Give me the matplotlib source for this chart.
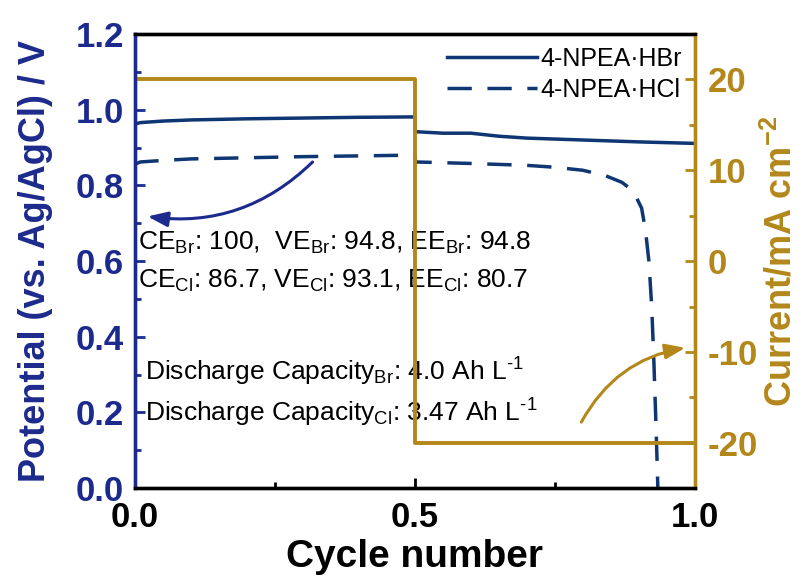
import matplotlib
matplotlib.use('Agg')
import matplotlib.pyplot as plt
import numpy as np

plt.rcParams['font.family'] = ['Liberation Sans', 'DejaVu Sans']
plt.rcParams['mathtext.fontset'] = 'custom'
plt.rcParams['mathtext.rm'] = 'Liberation Sans'
plt.rcParams['mathtext.bf'] = 'Liberation Sans:bold'
plt.rcParams['mathtext.default'] = 'regular'
plt.rcParams['axes.unicode_minus'] = False

navy = '#1b2a8c'
line_blue = '#0e3672'
gold = '#b3871a'

# potential curves
cycle_br = [0.0, 0.01, 0.05, 0.1, 0.2, 0.3, 0.4, 0.5, 0.501, 0.55, 0.6, 0.65, 0.7, 0.8, 0.9, 1.0]
pot_br = [0.962, 0.966, 0.970, 0.973, 0.976, 0.978, 0.980, 0.981, 0.942, 0.938, 0.938, 0.930, 0.925, 0.920, 0.915, 0.911]

cycle_cl = [0.0, 0.01, 0.05, 0.1, 0.2, 0.3, 0.4, 0.5, 0.501, 0.55, 0.6, 0.7, 0.75, 0.8, 0.84, 0.87,
            0.89, 0.905, 0.912, 0.918, 0.923, 0.927, 0.931, 0.934]
pot_cl = [0.856, 0.862, 0.866, 0.870, 0.873, 0.876, 0.878, 0.880, 0.862, 0.860, 0.858, 0.853, 0.848,
          0.840, 0.826, 0.808, 0.785, 0.740, 0.680, 0.600, 0.480, 0.330, 0.150, 0.0]

# applied current
cycle_cur = [0.0, 0.5, 0.5, 1.0]
current = [20, 20, -20, -20]

fig = plt.figure(figsize=(8.07, 5.77), dpi=100)
ax = fig.add_axes([0.167, 0.154, 0.694, 0.787])
ax2 = ax.twinx()

ax.plot(cycle_br, pot_br, color=line_blue, lw=2.5, label='4-NPEA·HBr')
ax.plot(cycle_cl, pot_cl, color=line_blue, lw=2.5, dashes=(7, 4.5), label='4-NPEA·HCl')
ax2.plot(cycle_cur, current, color=gold, lw=2.8)

ax.set_xlim(0, 1.0)
ax.set_ylim(0, 1.2)
ax2.set_ylim(-25, 25)

ax.set_xticks([0.0, 0.5, 1.0])
ax.set_xticks([0.25, 0.75], minor=True)
ax.set_xticklabels(['0.0', '0.5', '1.0'])
ax.set_yticks(np.arange(0, 1.21, 0.2))
ax.set_yticks(np.arange(0.1, 1.2, 0.2), minor=True)
ax.set_yticklabels(['%.1f' % v for v in np.arange(0, 1.21, 0.2)])
ax2.set_yticks([-20, -10, 0, 10, 20])
ax2.set_yticks([-15, -5, 5, 15], minor=True)

ax.tick_params(axis='x', which='both', direction='in', colors='black', labelsize=25,
               width=2, pad=9)
ax.tick_params(axis='x', which='major', length=7)
ax.tick_params(axis='x', which='minor', length=4)
ax.tick_params(axis='y', which='both', direction='in', colors=navy, labelsize=25, width=2, pad=8)
ax.tick_params(axis='y', which='major', length=7)
ax.tick_params(axis='y', which='minor', length=4)
ax2.tick_params(axis='y', which='both', direction='in', colors=gold, labelsize=25, width=2, pad=9)
ax2.tick_params(axis='y', which='major', length=7)
ax2.tick_params(axis='y', which='minor', length=4)
for lbl in ax.get_xticklabels() + ax.get_yticklabels() + ax2.get_yticklabels():
    lbl.set_fontweight('bold')

for a in (ax, ax2):
    a.spines['left'].set_color(navy)
    a.spines['right'].set_color(gold)
    a.spines['top'].set_color('black')
    a.spines['bottom'].set_color('black')
    for s in a.spines.values():
        s.set_linewidth(2.4)

ax.set_xlabel('Cycle number', fontsize=28, fontweight='bold', labelpad=4)
ax.set_ylabel('Potential (vs. Ag/AgCl) / V', fontsize=26, fontweight='bold', color=navy, labelpad=16)
ax2.set_ylabel(r'Current/mA cm$^{\mathbf{-2}}$', fontsize=26, fontweight='bold', color=gold,
               labelpad=4)

ax.legend(loc='upper right', frameon=False, fontsize=18, handlelength=3.6,
          borderaxespad=0.1, labelspacing=0.3, handletextpad=0.15)

ax.text(0.005, 0.648, r'CE$_{Br}$: 100,  VE$_{Br}$: 94.8, EE$_{Br}$: 94.8', fontsize=19,
        va='center', ha='left')
ax.text(0.005, 0.547, r'CE$_{Cl}$: 86.7, VE$_{Cl}$: 93.1, EE$_{Cl}$: 80.7', fontsize=19,
        va='center', ha='left')
ax.text(0.018, 0.307, r'Discharge Capacity$_{Br}$: 4.0 Ah L$^{\text{-1}}$', fontsize=19,
        va='center', ha='left')
ax.text(0.018, 0.200, r'Discharge Capacity$_{Cl}$: 3.47 Ah L$^{\text{-1}}$', fontsize=19,
        va='center', ha='left')

ax.annotate('', xy=(0.018, 0.719), xytext=(0.321, 0.867),
            arrowprops=dict(arrowstyle='-|>,head_length=1.2,head_width=0.45', color=navy, lw=2.2,
                            connectionstyle='arc3,rad=-0.25'))
ax2.annotate('', xy=(0.988, -9.5), xytext=(0.795, -18.0),
             arrowprops=dict(arrowstyle='-|>,head_length=1.2,head_width=0.45', color=gold, lw=2.2,
                             connectionstyle='arc3,rad=-0.25'))

fig.savefig('out.png', dpi=100)
